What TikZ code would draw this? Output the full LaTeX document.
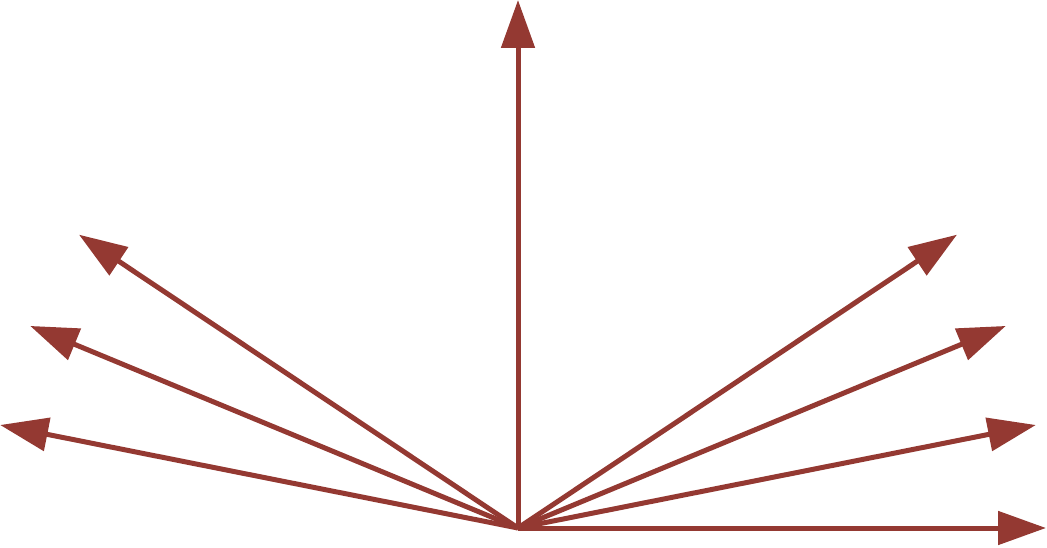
\documentclass[tikz,border=0pt]{standalone}
\usetikzlibrary{arrows.meta,calc}
\definecolor{arrowred}{RGB}{148,57,50}
\begin{document}
\begin{tikzpicture}[x=1pt,y=1pt,
  vec/.style={draw=arrowred,line width=5pt,-{Triangle[length=48pt,width=33pt]}}]
\useasboundingbox (0,0) rectangle (1047,547);
\coordinate (o) at (518,19);
\foreach \a/\n in {0/r0,11.25/r1,22.5/r2,33.75/r3,90/up,146.25/l3,157.5/l2,168.75/l1}{
  \coordinate (\n) at ($(o)+(\a:528)$);
}
\foreach \n in {r0,r1,r2,r3,up,l3,l2,l1}{
  \draw[vec] (o) -- (\n);
}
\end{tikzpicture}
\end{document}
